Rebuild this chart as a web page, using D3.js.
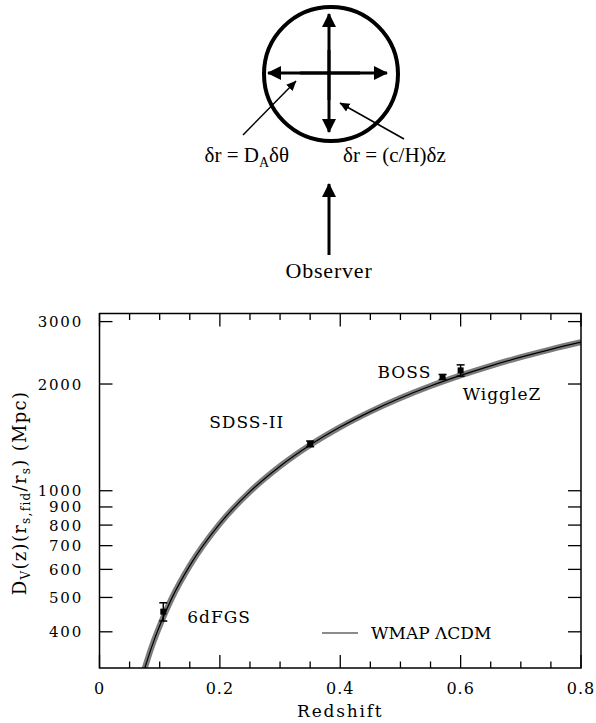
<!DOCTYPE html>
<html><head><meta charset="utf-8">
<script src="https://cdn.jsdelivr.net/npm/d3@7"></script>
<style>
html,body{margin:0;padding:0;background:#fff;}
svg{display:block;}
</style></head>
<body>
<svg id="c" width="596" height="723"></svg>
<script>
// ---- data ----
const curveZ  = [0.070,0.075,0.08,0.09,0.10,0.12,0.15,0.20,0.25,0.30,0.35,0.40,0.45,0.50,0.55,0.60,0.65,0.70,0.75,0.80];
const curveDV = [294,315,335,376,416,497,615,808,994,1173,1346,1512,1672,1826,1974,2115,2251,2381,2506,2625];
const surveys   = ["6dFGS","SDSS-II","BOSS","WiggleZ"];
const surveyZ   = [0.106,0.35,0.57,0.60];
const surveyDV  = [456,1356,2094,2185];
const surveyErr = [27,25,34,80];
const xTicks = [0,0.2,0.4,0.6,0.8];
const xMinor = d3.range(0,0.8001,0.05);
const yTicks = [400,500,600,700,800,900,1000,2000,3000];
const legendLabel = "WMAP ΛCDM";

const svg = d3.select("#c");
const L=99.5, R=581, T=313.5, B=668;
const x = d3.scaleLinear().domain([0,0.8]).range([L,R]);
const y = d3.scaleLog().domain([316.2,3162]).range([B,T]);
const serif = "DejaVu Serif";

// ---- top diagram ----
const defs = svg.append("defs");
defs.append("marker").attr("id","big").attr("markerUnits","userSpaceOnUse")
  .attr("viewBox","0 0 14 14").attr("refX",13).attr("refY",7)
  .attr("markerWidth",14).attr("markerHeight",14).attr("orient","auto")
  .append("path").attr("d","M0,0 L14,7 L0,14 Z").attr("fill","#000");
defs.append("marker").attr("id","small").attr("markerUnits","userSpaceOnUse")
  .attr("viewBox","0 0 10 10").attr("refX",9.5).attr("refY",5)
  .attr("markerWidth",10).attr("markerHeight",10).attr("orient","auto")
  .append("path").attr("d","M0,0.5 L10,5 L0,9.5 Z").attr("fill","#000");

const g0 = svg.append("g");
g0.append("circle").attr("cx",331).attr("cy",74).attr("r",67)
  .attr("fill","none").attr("stroke","#000").attr("stroke-width",4);
g0.append("line").attr("x1",300).attr("y1",73).attr("x2",387).attr("y2",73)
  .attr("stroke","#000").attr("stroke-width",3).attr("marker-end","url(#big)");
g0.append("line").attr("x1",360).attr("y1",73).attr("x2",268).attr("y2",73)
  .attr("stroke","#000").attr("stroke-width",3).attr("marker-end","url(#big)");
g0.append("line").attr("x1",329).attr("y1",100).attr("x2",329).attr("y2",14)
  .attr("stroke","#000").attr("stroke-width",3).attr("marker-end","url(#big)");
g0.append("line").attr("x1",329).attr("y1",50).attr("x2",329).attr("y2",132)
  .attr("stroke","#000").attr("stroke-width",3).attr("marker-end","url(#big)");
g0.append("line").attr("x1",243).attr("y1",135).attr("x2",296).attr("y2",81)
  .attr("stroke","#000").attr("stroke-width",1.5).attr("marker-end","url(#small)");
g0.append("line").attr("x1",404).attr("y1",139).attr("x2",340).attr("y2",103)
  .attr("stroke","#000").attr("stroke-width",1.5).attr("marker-end","url(#small)");
g0.append("line").attr("x1",329).attr("y1",255).attr("x2",329).attr("y2",184)
  .attr("stroke","#000").attr("stroke-width",3).attr("marker-end","url(#big)");

const tl = g0.append("text").attr("x",289).attr("y",162).attr("text-anchor","end")
  .attr("font-family","Liberation Serif").attr("font-size",21);
tl.append("tspan").text("δr = D");
tl.append("tspan").attr("font-size",14).attr("dy",5).text("A");
tl.append("tspan").attr("dy",-5).text("δθ");
g0.append("text").attr("x",343).attr("y",162).attr("text-anchor","start")
  .attr("font-family","Liberation Serif").attr("font-size",21).text("δr = (c/H)δz");
g0.append("text").attr("x",329).attr("y",278).attr("text-anchor","middle")
  .attr("font-family","Liberation Serif").attr("font-size",22).attr("letter-spacing",0.8).text("Observer");

// ---- plot ----
const clip = defs.append("clipPath").attr("id","clp");
clip.append("rect").attr("x",L).attr("y",T).attr("width",R-L).attr("height",B-T);

const line = d3.line().x((d,i)=>x(curveZ[i])).y(d=>y(d)).curve(d3.curveMonotoneX);
const pg = svg.append("g").attr("clip-path","url(#clp)");
pg.append("path").attr("d",line(curveDV)).attr("fill","none")
  .attr("stroke","#7c7c7c").attr("stroke-width",6);
pg.append("path").attr("d",line(curveDV)).attr("fill","none")
  .attr("stroke","#000").attr("stroke-width",1.2);

// points
const pts = svg.append("g");
surveys.forEach((s,i)=>{
  const px=x(surveyZ[i]), py=y(surveyDV[i]);
  const y1=y(surveyDV[i]+surveyErr[i]), y2=y(surveyDV[i]-surveyErr[i]);
  pts.append("line").attr("x1",px).attr("x2",px).attr("y1",y1).attr("y2",y2).attr("stroke","#000").attr("stroke-width",1.5);
  [y1,y2].forEach(yy=>pts.append("line").attr("x1",px-4).attr("x2",px+4).attr("y1",yy).attr("y2",yy).attr("stroke","#000").attr("stroke-width",1.5));
  pts.append("rect").attr("x",px-3).attr("y",py-3).attr("width",6).attr("height",6).attr("fill","#000");
});

// labels
const lab = svg.append("g").attr("font-family",serif).attr("font-size",17).attr("letter-spacing",1).attr("fill","#000");
const offs = [[24,11],[-101,-16],[-65,1],[2,30]];
surveys.forEach((s,i)=>{
  lab.append("text").attr("x",x(surveyZ[i])+offs[i][0]).attr("y",y(surveyDV[i])+offs[i][1]).text(s);
});

// legend
svg.append("line").attr("x1",322).attr("x2",358).attr("y1",633).attr("y2",633).attr("stroke","#666").attr("stroke-width",1.5);
svg.append("text").attr("x",371).attr("y",639).attr("font-family",serif).attr("font-size",17).text(legendLabel);

// frame
svg.append("rect").attr("x",L).attr("y",T).attr("width",R-L).attr("height",B-T)
  .attr("fill","none").attr("stroke","#000").attr("stroke-width",1.5);

// ticks
const tk = svg.append("g").attr("stroke","#000").attr("stroke-width",1.3);
xMinor.forEach(v=>{
  const major = xTicks.some(t=>Math.abs(t-v)<1e-6);
  const len = major?13:6.5;
  tk.append("line").attr("x1",x(v)).attr("x2",x(v)).attr("y1",B).attr("y2",B-len);
  tk.append("line").attr("x1",x(v)).attr("x2",x(v)).attr("y1",T).attr("y2",T+len);
});
yTicks.forEach(v=>{
  tk.append("line").attr("x1",L).attr("x2",L+13).attr("y1",y(v)).attr("y2",y(v));
  tk.append("line").attr("x1",R).attr("x2",R-13).attr("y1",y(v)).attr("y2",y(v));
});
const tx = svg.append("g").attr("font-family",serif).attr("font-size",16).attr("letter-spacing",1).attr("fill","#000");
xTicks.forEach(v=>{
  tx.append("text").attr("x",x(v)).attr("y",694).attr("text-anchor","middle").text(d3.format("")(v));
});
const ty = svg.append("g").attr("font-family",serif).attr("font-size",15).attr("letter-spacing",1.8).attr("fill","#000");
yTicks.forEach(v=>{
  ty.append("text").attr("x",83).attr("y",y(v)+5.5).attr("text-anchor","end").text(v);
});
svg.append("text").attr("x",(L+R)/2).attr("y",717).attr("text-anchor","middle")
  .attr("font-family",serif).attr("font-size",17).attr("letter-spacing",1.8).text("Redshift");

const yl = svg.append("text").attr("transform","translate(26,493) rotate(-90)")
  .attr("text-anchor","middle").attr("font-family",serif).attr("font-size",18).attr("letter-spacing",1.3);
yl.append("tspan").text("D");
yl.append("tspan").attr("font-size",12).attr("dy",4).text("V");
yl.append("tspan").attr("dy",-4).text("(z)(r");
yl.append("tspan").attr("font-size",12).attr("dy",4).text("s,fid");
yl.append("tspan").attr("dy",-4).text("/r");
yl.append("tspan").attr("font-size",12).attr("dy",4).text("s");
yl.append("tspan").attr("dy",-4).text(")  (Mpc)");
</script>
</body></html>
